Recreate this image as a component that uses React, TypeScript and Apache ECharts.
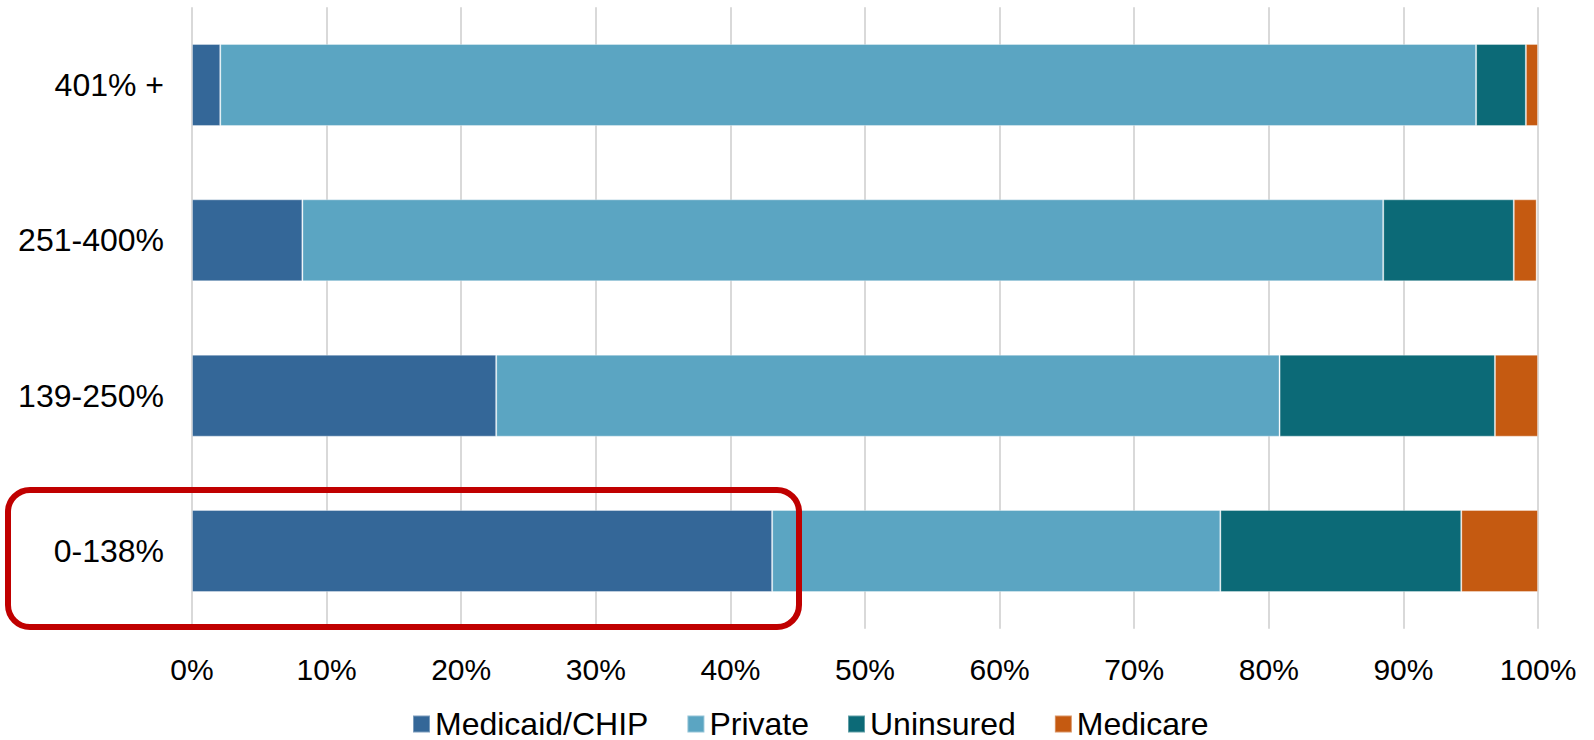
import React, { useEffect, useRef } from "react";
import * as echarts from "echarts";

// Income bands (% of poverty level), bottom to top on the category axis
const incomeBands = ["0-138%", "139-250%", "251-400%", "401% +"];

// Share of people by coverage source, in percent, same order as incomeBands
const medicaidChip = [43.1, 22.6, 8.2, 2.1];
const privateCov = [33.3, 58.2, 80.3, 93.3];
const uninsured = [17.9, 16.0, 9.7, 3.7];
const medicare = [5.7, 3.2, 1.7, 0.9];

const seriesNames = ["Medicaid/CHIP", "Private", "Uninsured", "Medicare"];
const seriesColors = ["#346798", "#5BA5C2", "#0C6A77", "#C55A11"];
const seriesValues = [medicaidChip, privateCov, uninsured, medicare];

const FONT = "'Liberation Sans', Arial, sans-serif";

export default function App() {
  const ref = useRef<HTMLDivElement>(null);

  useEffect(() => {
    if (!ref.current) return;
    const chart = echarts.init(ref.current, undefined, { renderer: "svg" });

    chart.setOption({
      animation: false,
      backgroundColor: "#ffffff",
      textStyle: { fontFamily: FONT },
      grid: { left: 192, right: 56, top: 7.3, bottom: 111.3, containLabel: false },
      xAxis: {
        type: "value",
        min: 0,
        max: 100,
        interval: 10,
        axisLine: { show: false },
        axisTick: { show: false },
        axisLabel: {
          formatter: "{value}%",
          fontSize: 30,
          color: "#000000",
          margin: 26,
          fontFamily: FONT,
        },
        splitLine: { show: true, lineStyle: { color: "#d9d9d9", width: 2 } },
      },
      yAxis: {
        type: "category",
        data: incomeBands,
        axisLine: { show: false },
        axisTick: { show: false },
        axisLabel: { fontSize: 32, color: "#000000", margin: 28, fontFamily: FONT },
      },
      legend: {
        data: seriesNames,
        left: 412,
        top: 708,
        padding: 0,
        icon: "rect",
        itemWidth: 17,
        itemHeight: 17,
        itemGap: 38,
        textStyle: { fontSize: 32, color: "#000000", fontFamily: FONT },
      },
      series: seriesNames.map((name, i) => ({
        name,
        type: "bar",
        stack: "coverage",
        barWidth: 82,
        data: seriesValues[i],
        itemStyle: {
          color: seriesColors[i],
          borderColor: "rgba(255,255,255,0.35)",
          borderWidth: 1,
        },
      })),
      graphic: [
        {
          type: "rect",
          shape: { x: 8, y: 490, width: 791, height: 137, r: 22 },
          style: { fill: "none", stroke: "#C00000", lineWidth: 6 },
          z: 100,
        },
      ],
    });

    return () => chart.dispose();
  }, []);

  return (
    <div
      ref={ref}
      style={{ position: "fixed", left: 0, top: 0, width: 1594, height: 740 }}
    />
  );
}
